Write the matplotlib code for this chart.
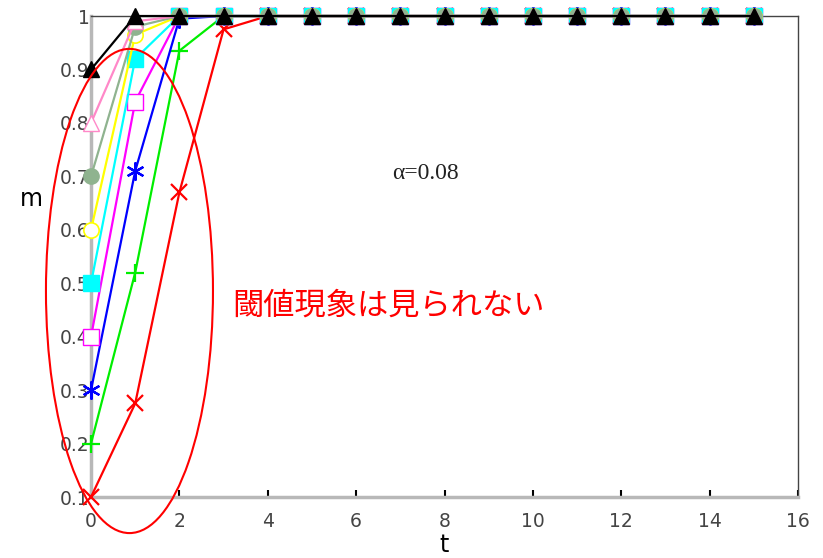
import matplotlib
matplotlib.use("Agg")
import matplotlib.pyplot as plt
from matplotlib.patches import Ellipse
import numpy as np

t = np.arange(16)
ones = [1.0] * 12

m_red = [0.1, 0.275, 0.67, 0.975] + ones
m_green = [0.2, 0.52, 0.935, 1.0, 1.0] + ones[:11]
m_blue = [0.3, 0.71, 0.995, 1.0] + ones
m_magenta = [0.4, 0.84, 1.0, 1.0] + ones
m_cyan = [0.5, 0.92, 1.0, 1.0] + ones
m_yellow = [0.6, 0.965, 1.0, 1.0] + ones
m_sage = [0.7, 0.98, 1.0, 1.0] + ones
m_pink = [0.8, 0.99, 1.0, 1.0] + ones
m_black = [0.9, 1.0, 1.0, 1.0] + ones

fig = plt.figure(figsize=(8.23, 5.58), dpi=100)
ax = fig.add_axes([0.1106, 0.1093, 0.8590, 0.8620])

# lowest curve first, black on top
ax.plot(t, m_red, color='red', lw=1.6, marker='x', ms=12, mew=1.6, clip_on=False, zorder=3)
ax.plot(t, m_green, color='#00ee00', lw=1.6, marker='+', ms=13, mew=1.6, clip_on=False, zorder=3)
ax.plot(t, m_blue, color='blue', lw=1.6, marker=(6, 2, 0), ms=13, mew=1.6, clip_on=False, zorder=3)
ax.plot(t, m_magenta, color='magenta', lw=1.6, marker='s', ms=11, mfc='white', mew=1.0, clip_on=False, zorder=3)
ax.plot(t, m_cyan, color='cyan', lw=1.6, marker='s', ms=11, mfc='cyan', clip_on=False, zorder=3)
ax.plot(t, m_yellow, color='yellow', lw=1.6, marker='o', ms=11, mfc='white', mew=1.2, clip_on=False, zorder=3)
ax.plot(t, m_sage, color='#8fb38f', lw=1.6, marker='o', ms=11, mfc='#8fb38f', clip_on=False, zorder=3)
ax.plot(t, m_pink, color='#ff88c8', lw=1.6, marker='^', ms=11, mfc='white', mew=1.0, clip_on=False, zorder=3)
ax.plot(t, m_black, color='black', lw=1.6, marker='^', ms=11, mfc='black', clip_on=False, zorder=4)

ax.set_xlim(0, 16)
ax.set_ylim(0.1, 1.0)
ax.set_xticks(np.arange(0, 17, 2))
ax.set_yticks(np.arange(0.1, 1.01, 0.1))
ax.set_yticklabels(['0.1', '0.2', '0.3', '0.4', '0.5', '0.6', '0.7', '0.8', '0.9', '1'])

for side in ['left', 'bottom']:
    ax.spines[side].set_color('#b8b8b8')
    ax.spines[side].set_linewidth(2.5)
for side in ['top', 'right']:
    ax.spines[side].set_color('#444444')
    ax.spines[side].set_linewidth(1.0)
    ax.spines[side].set_linestyle((0, (1, 1)))

ax.tick_params(axis='x', direction='in', length=5, width=1.5, color='black',
               labelsize=13.5, labelcolor='#444444', pad=11)
ax.tick_params(axis='y', direction='in', length=0, labelsize=13.5, labelcolor='#444444', pad=1)

ax.set_xlabel('t', fontsize=17, labelpad=1.5)
ax.set_ylabel('m', fontsize=17, rotation=0, labelpad=22, va='center')
ax.yaxis.set_label_coords(-0.085, 0.62)

ax.text(6.81, 0.706, 'α=0.08', fontsize=17, family='Liberation Serif',
        va='center', ha='left', color='#222222')
ax.text(3.19, 0.459, '閾値現象は見られない', fontsize=22.5, color='red',
        family=['Noto Sans CJK JP', 'DejaVu Sans'], va='center', ha='left')

ell = Ellipse((0.87, 0.4855), 3.78, 0.906, fill=False, edgecolor='red', lw=1.5,
              clip_on=False, zorder=5)
ax.add_patch(ell)

fig.savefig('out.png', dpi=100)
